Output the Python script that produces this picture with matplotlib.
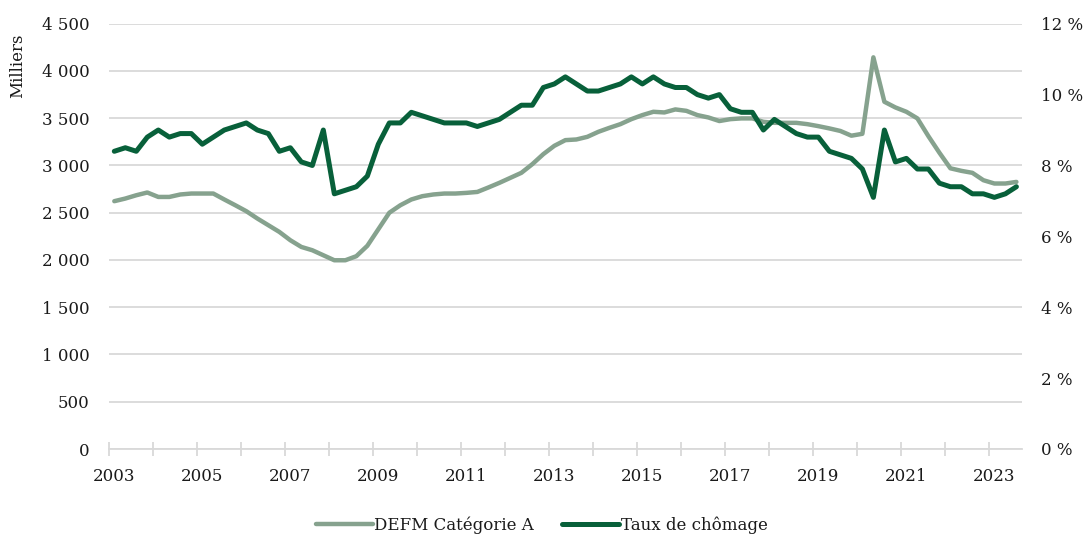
import matplotlib
matplotlib.use("Agg")
import matplotlib.pyplot as plt
from matplotlib.ticker import FuncFormatter, FixedLocator

# ---- data (quarterly, 2003 T1 -> 2023 T3) ----
years = list(range(2003, 2024))
quarters = [f"{y}T{q}" for y in years for q in range(1, 5)][:83]

defm_cat_a = [
    2622, 2650, 2685, 2714, 2667, 2667, 2693, 2703, 2703, 2703, 2640, 2579, 2516, 2439,
    2368, 2297, 2209, 2138, 2103, 2050, 1997, 1997, 2040, 2150, 2325, 2500, 2579,
    2640, 2675, 2693, 2703, 2703, 2710, 2720, 2767, 2816, 2869, 2922, 3014, 3120, 3208,
    3268, 3275, 3303, 3356, 3398, 3437, 3490, 3533, 3568, 3561, 3593, 3578, 3533, 3508,
    3470, 3490, 3498, 3498,
    3462, 3451, 3451, 3451, 3437, 3416, 3392, 3365, 3315, 3335, 4144, 3674, 3614, 3568,
    3498, 3310, 3135, 2970, 2943, 2922, 2844, 2809, 2809, 2826,
]

taux_chomage = [
    8.4, 8.5, 8.4, 8.8, 9.0, 8.8, 8.9, 8.9, 8.6, 8.8, 9.0, 9.1, 9.2, 9.0, 8.9, 8.4,
    8.5, 8.1, 8.0, 9.0, 7.2, 7.3, 7.4, 7.7, 8.6, 9.2, 9.2,
    9.5, 9.4, 9.3, 9.2, 9.2, 9.2, 9.1, 9.2, 9.3, 9.5, 9.7, 9.7, 10.2, 10.3, 10.5, 10.3,
    10.1, 10.1, 10.2, 10.3, 10.5, 10.3, 10.5, 10.3, 10.2, 10.2, 10.0, 9.9, 10.0, 9.6,
    9.5, 9.5,
    9.0, 9.3, 9.1, 8.9, 8.8, 8.8, 8.4, 8.3, 8.2, 7.9, 7.1, 9.0, 8.1, 8.2, 7.9, 7.9,
    7.5, 7.4, 7.4, 7.2, 7.2, 7.1, 7.2, 7.4,
]

label_defm = "DEFM Catégorie A"
label_taux = "Taux de chômage"
ylabel_left = "Milliers"
left_ticks = [0, 500, 1000, 1500, 2000, 2500, 3000, 3500, 4000, 4500]
right_ticks = [0, 2, 4, 6, 8, 10, 12]

# ---- style ----
plt.rcParams['font.family'] = ['DejaVu Serif']
FS = 12
light = "#86A28E"
dark = "#08603A"
grid_c = "#D9D9D9"
txt_c = "#1a1a1a"

fig = plt.figure(figsize=(10.9, 5.35), dpi=100)
ax = fig.add_axes([108.8 / 1090, 1 - 449 / 535, (1021.9 - 108.8) / 1090, (449 - 23.7) / 535])
ax2 = ax.twinx()

x = list(range(len(quarters)))
l1, = ax.plot(x, defm_cat_a, color=light, lw=3.2, solid_joinstyle='round',
              solid_capstyle='round', label=label_defm, zorder=3)
l2, = ax2.plot(x, taux_chomage, color=dark, lw=3.6, solid_joinstyle='round',
               solid_capstyle='round', label=label_taux, zorder=3)

n = len(quarters)
ax.set_xlim(-0.5, n - 0.5)
ax.set_ylim(0, 4500)
ax2.set_ylim(0, 12)

ax.set_yticks(left_ticks)
ax.yaxis.set_major_formatter(FuncFormatter(lambda v, p: f"{int(v):,}".replace(",", " ")))
ax2.set_yticks(right_ticks)
ax2.yaxis.set_major_formatter(FuncFormatter(lambda v, p: f"{int(v)} %"))

ax.grid(axis='y', color=grid_c, lw=1.3)
ax.set_axisbelow(True)

for a in (ax, ax2):
    for s in a.spines.values():
        s.set_visible(False)
ax.spines['bottom'].set_visible(True)
ax.spines['bottom'].set_color(grid_c)
ax.spines['bottom'].set_linewidth(1.3)

ax.tick_params(axis='y', length=0, pad=14, labelsize=FS, labelcolor=txt_c)
ax2.tick_params(axis='y', length=0, pad=14, labelsize=FS, labelcolor=txt_c)

# x axis: year-boundary ticks, labels every two years on first quarter
label_pos = [i for i, q in enumerate(quarters) if q.endswith("T1") and (int(q[:4]) - 2003) % 2 == 0]
ax.set_xticks(label_pos)
ax.set_xticklabels([quarters[i][:4] for i in label_pos])
ax.tick_params(axis='x', which='major', length=0, pad=14, labelsize=FS, labelcolor=txt_c)
boundaries = [i - 0.5 for i, q in enumerate(quarters) if q.endswith("T1")]
ax.xaxis.set_minor_locator(FixedLocator(boundaries))
ax.tick_params(axis='x', which='minor', direction='inout', length=10, width=1.3, color=grid_c)

fig.text(18 / 1090, 1 - 66 / 535, ylabel_left, rotation=90, ha='center', va='center',
         fontsize=FS, color=txt_c)

fig.legend(handles=[l1, l2], loc='center', bbox_to_anchor=(0.497, 10 / 535), ncol=2,
           frameon=False, fontsize=FS, handlelength=3.4, handletextpad=0.1,
           columnspacing=1.7, labelcolor=txt_c)

fig.savefig("out.png", dpi=100)
